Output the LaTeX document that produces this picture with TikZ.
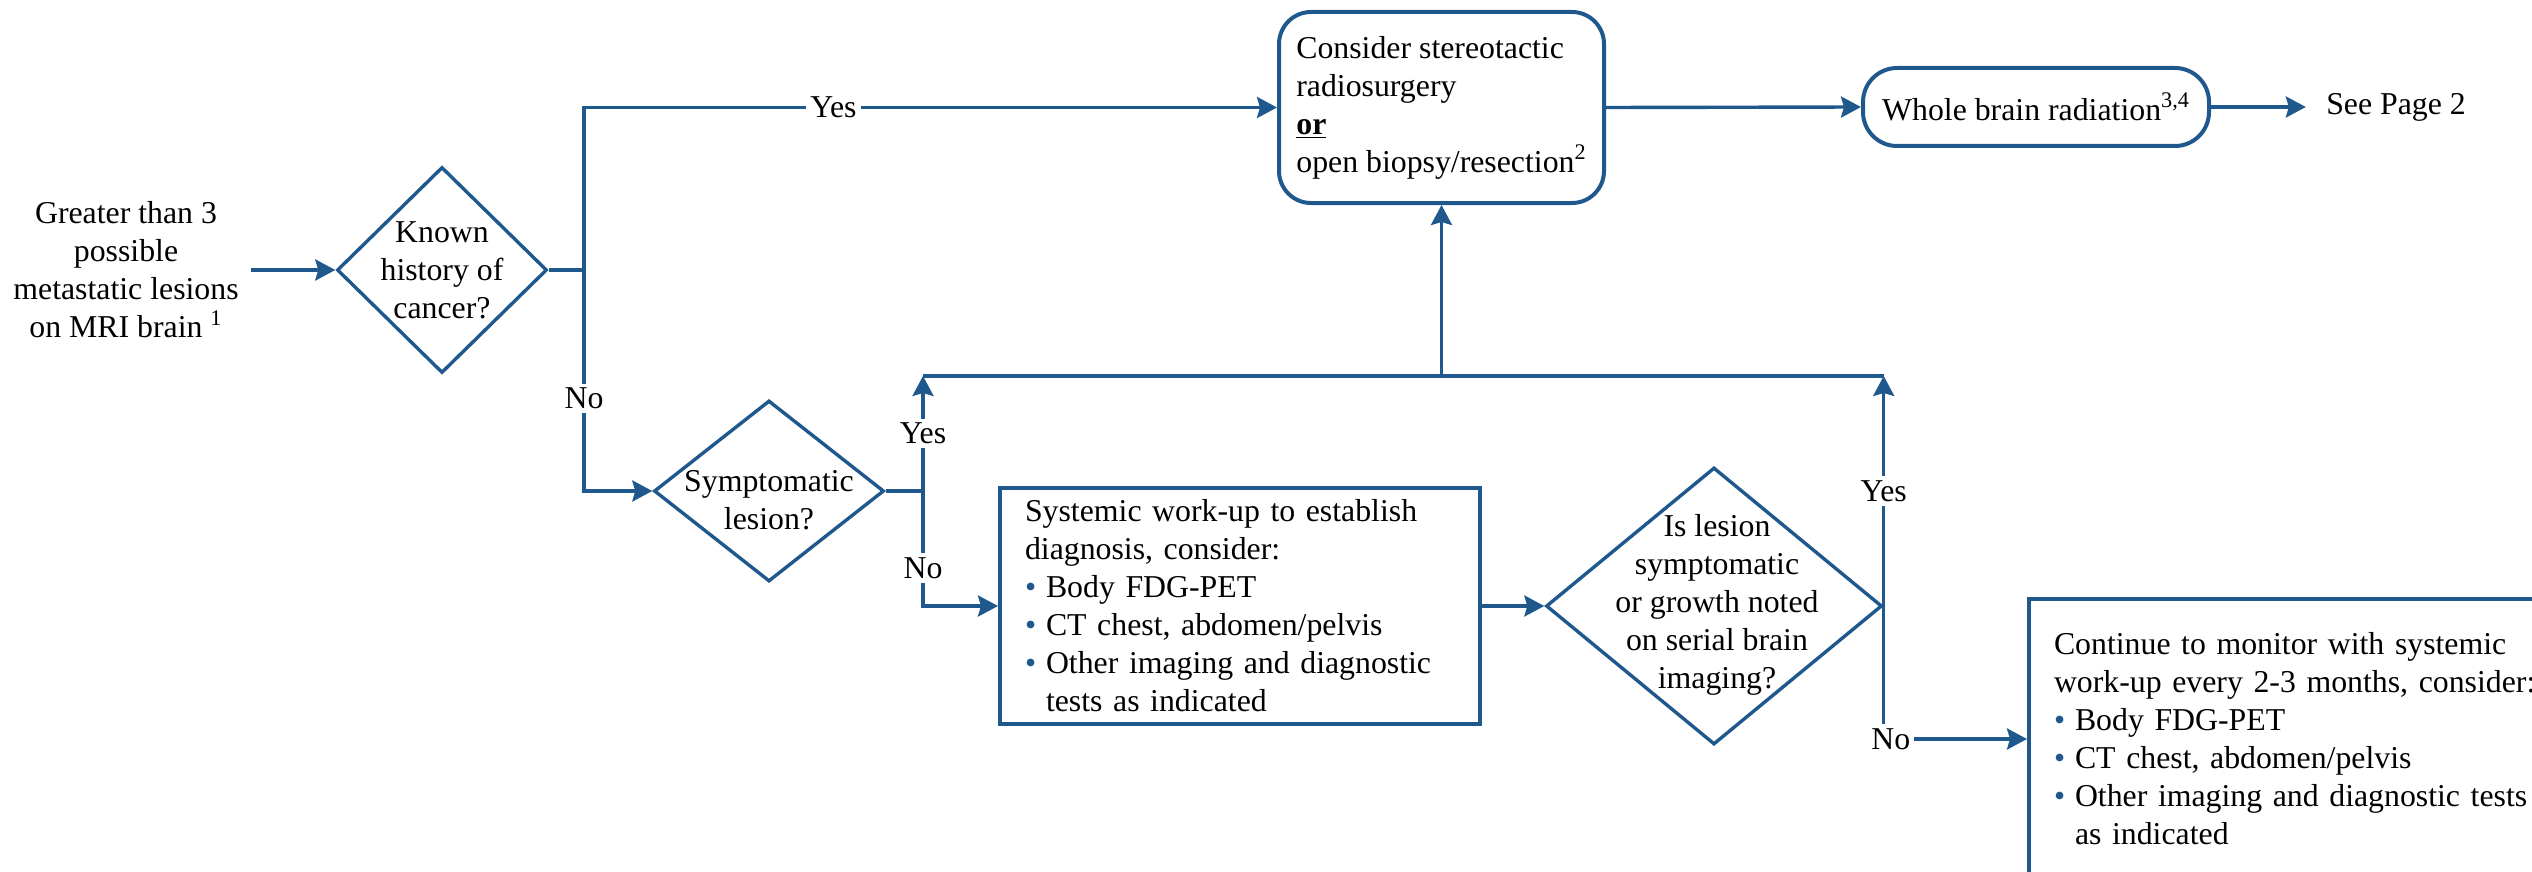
\documentclass[tikz,border=0pt]{standalone}
\usepackage{fontspec}
\setmainfont{Liberation Serif}
\usetikzlibrary{shapes.geometric,arrows.meta}
\definecolor{flowblue}{RGB}{31,88,140}
\newcommand{\bul}{\makebox[10.5pt][l]{\textcolor{flowblue}{\textbullet}}}
\newcommand{\bulgap}{\hspace*{10.5pt}}
\begin{document}
\begin{tikzpicture}[x=0.5pt,y=-0.5pt,font=\fontsize{15.9}{19}\selectfont,
  conn/.style={draw=flowblue,line width=1.7pt},
  flow/.style={conn,-{Stealth[length=10pt,width=10.5pt,inset=1.5pt]}},
  decision/.style={diamond,draw=flowblue,line width=1.7pt,inner sep=0pt},
  roundbox/.style={rectangle,rounded corners=16pt,draw=flowblue,line width=2pt,align=left},
  listbox/.style={rectangle,draw=flowblue,line width=2pt,align=left,inner xsep=12.5pt},
  lbl/.style={fill=white,inner sep=2pt}]
\useasboundingbox (0,0) rectangle (2532,872);
\clip (0,0) rectangle (2532,872);

\node[align=center,inner sep=6pt] (start) at (126,270) {Greater than 3\\possible\\metastatic lesions\\on MRI brain \textsuperscript{1}};
\node[decision,minimum width=105pt,minimum height=103pt] (known) at (442,270) {};
\node[align=center] (knowntxt) at (known) {Known\\history of\\cancer?};
\node[roundbox,minimum width=162.5pt,minimum height=95.5pt] (srs) at (1441.5,107.5) {Consider stereotactic\\radiosurgery\\\textbf{\underline{or}}\\open biopsy/resection\textsuperscript{2}};
\node[roundbox,align=center,minimum width=173pt,minimum height=39pt,rounded corners=17pt] (wbr) at (2036,107) {Whole brain radiation\textsuperscript{3,4}};
\node[inner xsep=10pt] (page) at (2396,107) {See Page 2};
\node[decision,minimum width=115pt,minimum height=90.5pt] (symp) at (769,491) {};
\node[align=center] (symptxt) at (769,500) {Symptomatic\\lesion?};
\node[listbox,text width=215pt,minimum height=118pt] (workup) at (1240,606) {Systemic work-up to establish\\diagnosis, consider:\\\bul Body FDG-PET\\\bul CT chest, abdomen/pelvis\\\bul Other imaging and diagnostic\\\bulgap tests as indicated};
\node[decision,minimum width=168pt,minimum height=138.5pt] (growth) at (1714,606) {};
\node[align=center] (growthtxt) at (1717,605) {Is lesion\\symptomatic\\or growth noted\\on serial brain\\imaging?};
\node[listbox,text width=250pt,minimum height=140pt,anchor=north west] (monitor) at (2027,597) {Continue to monitor with systemic\\work-up every 2-3 months, consider:\\\bul Body FDG-PET\\\bul CT chest, abdomen/pelvis\\\bul Other imaging and diagnostic tests\\\bulgap as indicated};

\coordinate (fork1) at (584,270);
\coordinate (fork2) at (923,491);
\coordinate (jl) at (fork2 |- 0,376);
\coordinate (jr) at (growth.east |- 0,376);

\draw[flow] (start.east) -- (known.west);
\draw[conn] (known.east) -- (fork1);
\draw[flow] (fork1) |- node[lbl,pos=0.68] {Yes} (srs.west);
\draw[flow] (fork1) |- node[lbl,pos=0.29] {No} (symp.west);
\draw[flow] (srs.east) -- (wbr.west);
\draw[flow] (wbr.east) -- (page.west);
\draw[conn] (symp.east) -- (fork2);
\draw[flow] (fork2) -- node[lbl] {Yes} (jl);
\draw[flow] (fork2) |- node[lbl,pos=0.335] {No} (workup.west);
\draw[conn] (jl) -- (jr);
\draw[flow] (srs.south |- jl) -- (srs.south);
\draw[flow] (workup.east) -- (growth.west);
\draw[flow] (growth.east) -- node[lbl] {Yes} (jr);
\draw[flow] (growth.east) |- node[lbl,pos=0.5,xshift=3.5pt] {No} (monitor.west);

\end{tikzpicture}
\end{document}
